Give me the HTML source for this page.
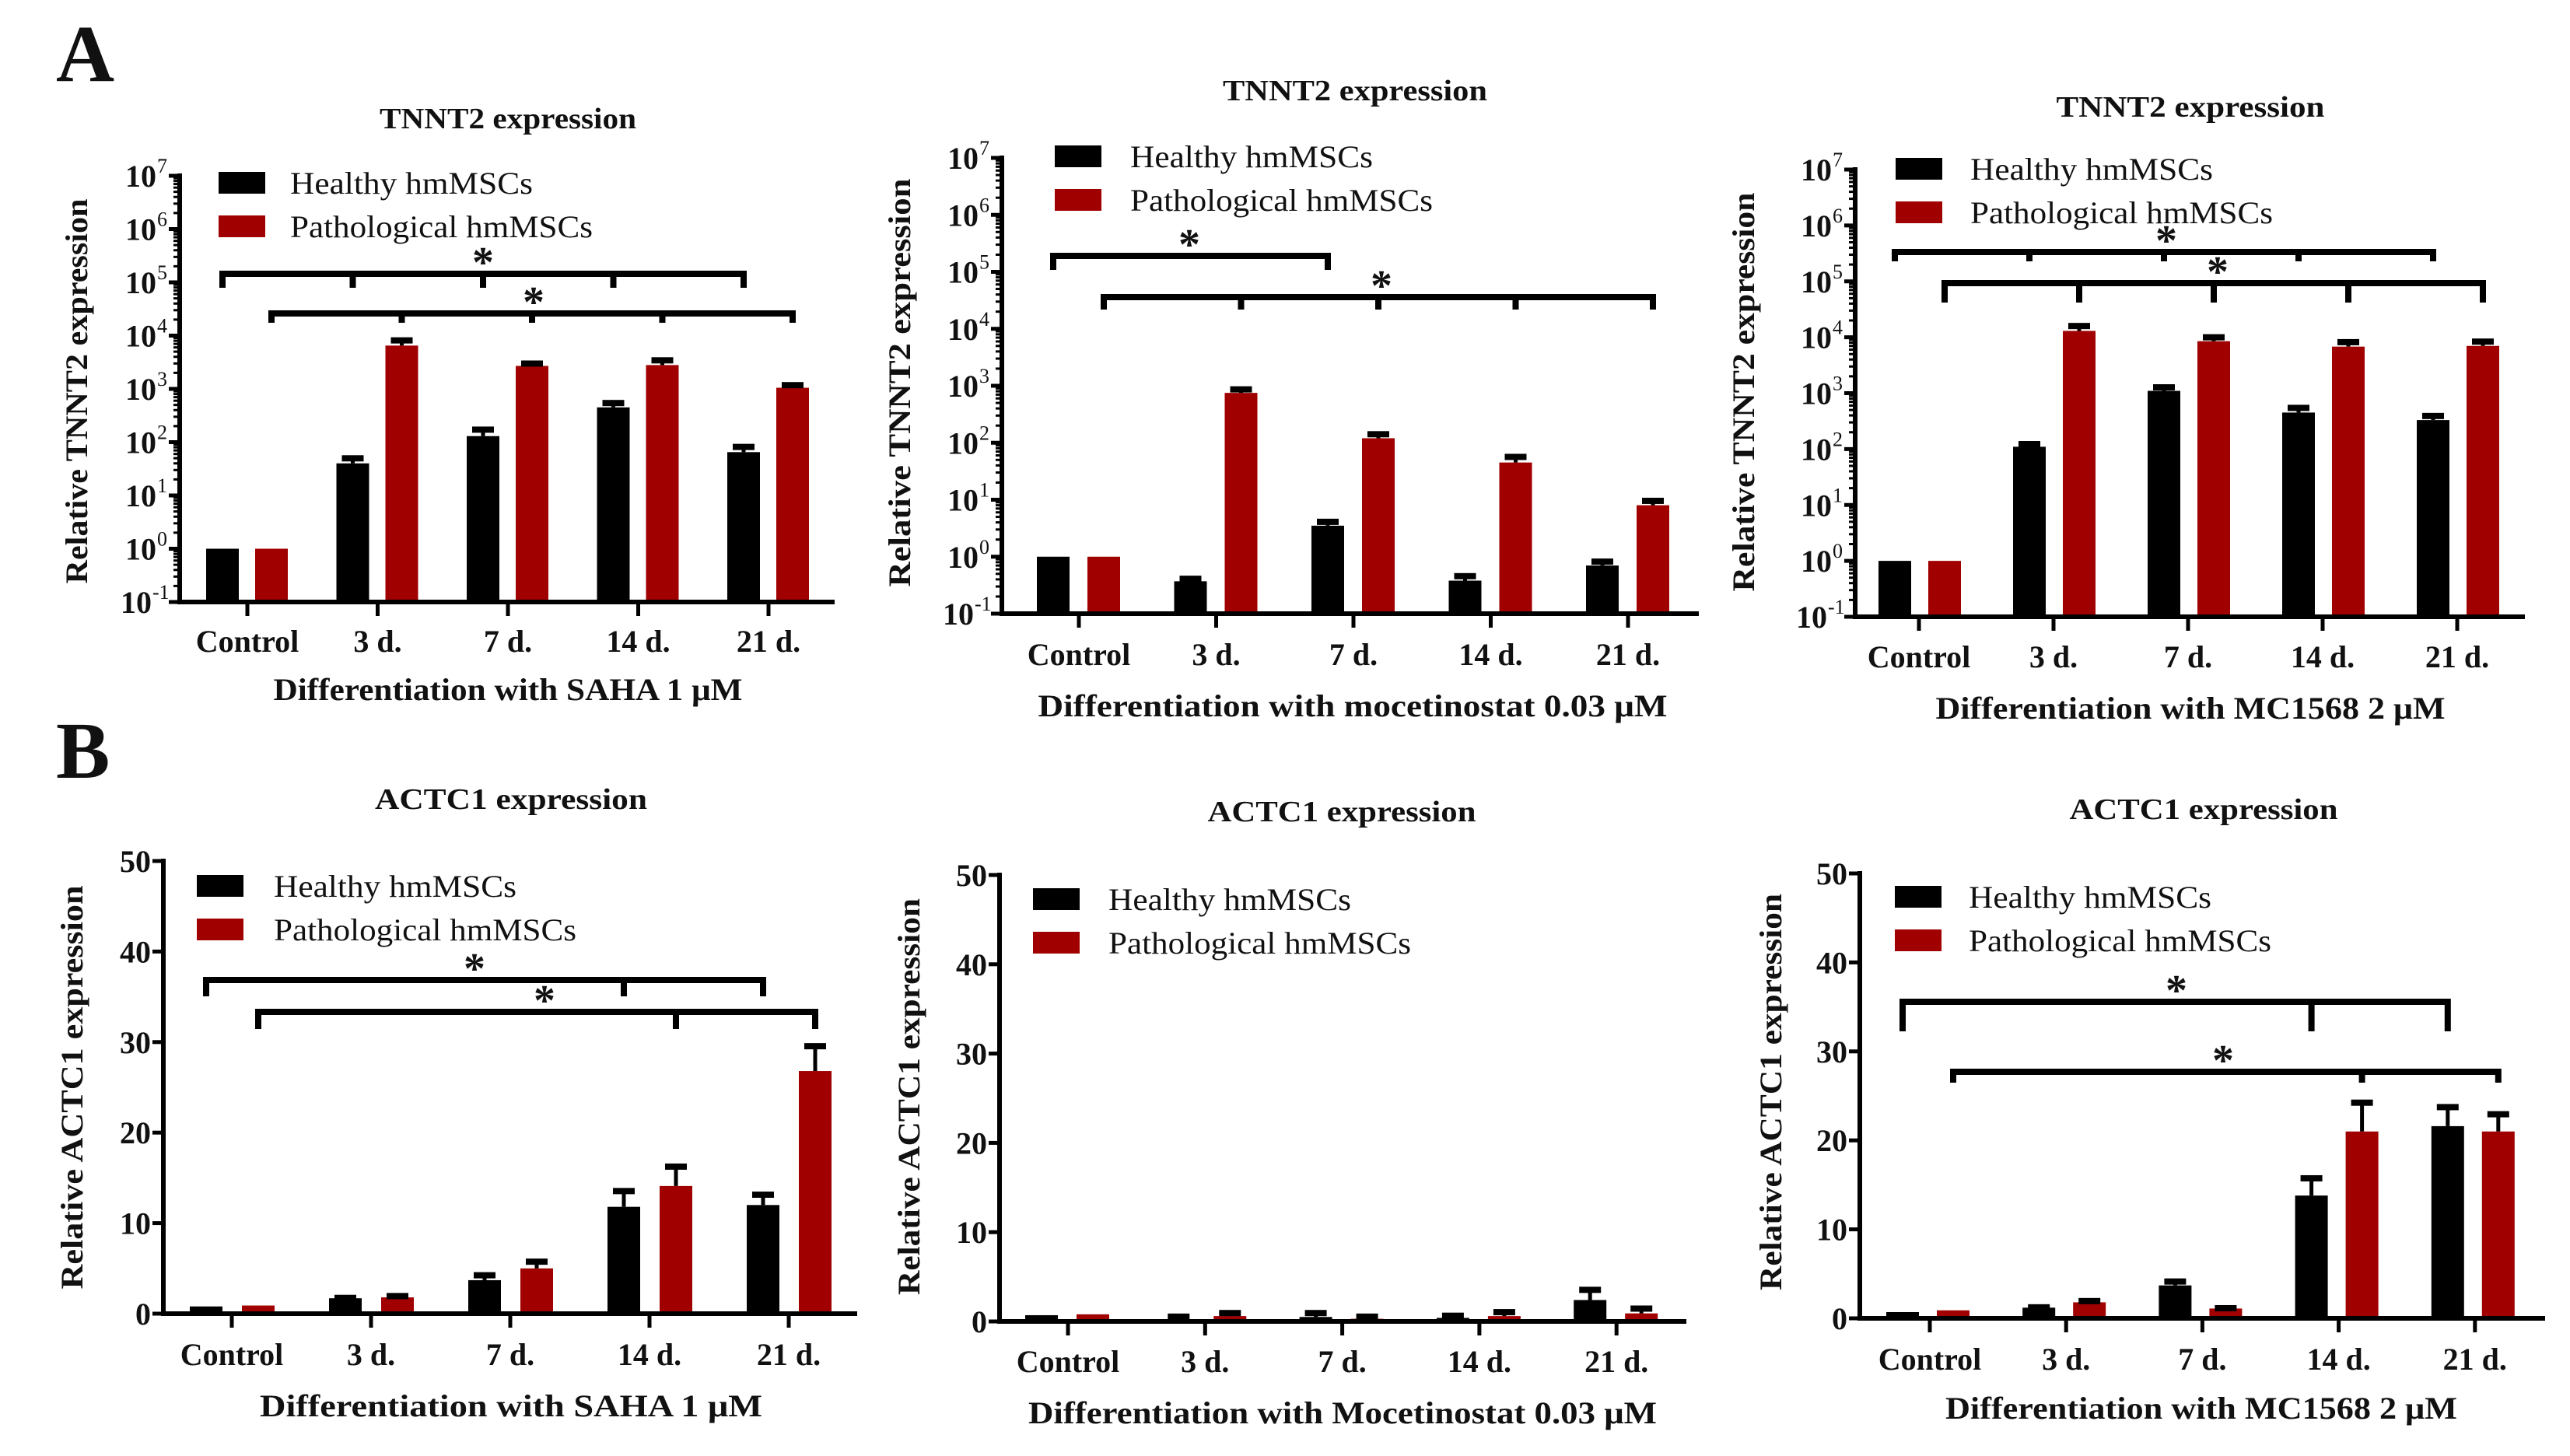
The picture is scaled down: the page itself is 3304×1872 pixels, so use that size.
<!DOCTYPE html>
<html><head><meta charset="utf-8"><style>
html,body{margin:0;padding:0;background:#fff;}
svg{display:block;}
text{font-family:"Liberation Serif",serif;fill:#111;}
</style></head><body>
<svg id="fig" width="3304" height="1872" viewBox="0 0 3304 1872" xmlns="http://www.w3.org/2000/svg">
<rect x="0" y="0" width="3304" height="1872" fill="#ffffff"/>
<text x="72" y="104" font-size="104" font-weight="bold">A</text>
<text x="72" y="1000" font-size="104" font-weight="bold">B</text>
</svg>
<script>
const categories = ['Control','3 d.','7 d.','14 d.','21 d.'];
// A1 TNNT2 SAHA
const a1Healthy = [1, 40, 130, 450, 65];
const a1HealthyErr = [1, 55, 190, 600, 90];
const a1Path = [1, 6500, 2700, 2800, 1050];
const a1PathErr = [1, 9000, 3300, 3800, 1300];
// A2 TNNT2 mocetinostat
const a2Healthy = [1, 0.37, 3.5, 0.38, 0.7];
const a2HealthyErr = [1, 0.45, 4.5, 0.5, 0.9];
const a2Path = [1, 750, 120, 45, 8];
const a2PathErr = [1, 950, 155, 62, 10.5];
// A3 TNNT2 MC1568
const a3Healthy = [1, 110, 1100, 450, 330];
const a3HealthyErr = [1, 135, 1400, 600, 430];
const a3Path = [1, 13000, 8500, 6800, 7000];
const a3PathErr = [1, 17500, 11000, 9000, 9200];
// B1 ACTC1 SAHA
const b1Healthy = [0.8, 1.7, 3.7, 11.8, 12];
const b1HealthyErr = [0.8, 2.0, 4.5, 13.8, 13.4];
const b1Path = [0.9, 1.8, 5, 14.1, 26.8];
const b1PathErr = [0.9, 2.2, 6, 16.5, 29.8];
// B2 ACTC1 mocetinostat
const b2Healthy = [0.7, 0.2, 0.5, 0.4, 2.4];
const b2HealthyErr = [0.7, 0.8, 1.2, 0.9, 3.8];
const b2Path = [0.8, 0.6, 0.3, 0.6, 0.9];
const b2PathErr = [0.8, 1.2, 0.8, 1.3, 1.7];
// B3 ACTC1 MC1568
const b3Healthy = [0.7, 1.2, 3.7, 13.8, 21.6];
const b3HealthyErr = [0.7, 1.5, 4.4, 16, 24];
const b3Path = [0.9, 1.8, 1.1, 21, 21];
const b3PathErr = [0.9, 2.2, 1.4, 24.5, 23.2];
const logTickExps = [-1,0,1,2,3,4,5,6,7];
const linTicks = [0,10,20,30,40,50];

const NS='http://www.w3.org/2000/svg';
const svg=document.getElementById('fig');
function mk(tag,attrs,parent){const e=document.createElementNS(NS,tag);for(const k in attrs)e.setAttribute(k,attrs[k]);(parent||svg).appendChild(e);return e;}

const panels=[
 {id:'a1',log:true,ax:231,top:226,bot:774,right:1073,t0:318,dt:167.5,bo:-32,ro:31,h:a1Healthy,he:a1HealthyErr,p:a1Path,pe:a1PathErr,
  title:'TNNT2 expression',tx:653,ty:165,tw:330,lx:281,ly:221,ltx:373,ylab:'Relative TNNT2 expression',yx:112,yy:503,yl:495,
  xt:'Differentiation with SAHA 1 \u03bcM',xtx:653,xty:900,xtw:603,cly:838,
  br:[{g:'h',idx:[0,1,2,3,4],y:352,d:18,sx:621},{g:'p',idx:[0,1,2,3,4],y:403,d:12,sx:686}]},
 {id:'a2',log:true,ax:1288,top:203,bot:789,right:2184,t0:1387,dt:176.5,bo:-33,ro:32,h:a2Healthy,he:a2HealthyErr,p:a2Path,pe:a2PathErr,
  title:'TNNT2 expression',tx:1742,ty:129,tw:340,lx:1356,ly:187,ltx:1453,ylab:'Relative TNNT2 expression',yx:1170,yy:492,yl:525,
  xt:'Differentiation with mocetinostat 0.03 \u03bcM',xtx:1739,xty:921,xtw:809,cly:855,
  br:[{g:'h',idx:[0,2],y:329,d:18,sx:1529},{g:'p',idx:[0,1,2,3,4],y:382,d:16,sx:1776}]},
 {id:'a3',log:true,ax:2385,top:218,bot:793,right:3246,t0:2467,dt:173,bo:-31,ro:33,h:a3Healthy,he:a3HealthyErr,p:a3Path,pe:a3PathErr,
  title:'TNNT2 expression',tx:2816,ty:150,tw:345,lx:2437,ly:203,ltx:2533,ylab:'Relative TNNT2 expression',yx:2255,yy:504,yl:513,
  xt:'Differentiation with MC1568 2 \u03bcM',xtx:2816,xty:924,xtw:655,cly:858,
  br:[{g:'h',idx:[0,1,2,3,4],y:324,d:12,sx:2785},{g:'p',idx:[0,1,2,3,4],y:364,d:25,sx:2851}]},
 {id:'b1',log:false,ax:210,top:1107,bot:1689,right:1102,t0:298,dt:179,bo:-33,ro:34,h:b1Healthy,he:b1HealthyErr,p:b1Path,pe:b1PathErr,
  title:'ACTC1 expression',tx:657,ty:1040,tw:350,lx:253,ly:1125,ltx:352,ylab:'Relative ACTC1 expression',yx:106,yy:1398,yl:519,
  xt:'Differentiation with SAHA 1 \u03bcM',xtx:657,xty:1821,xtw:646,cly:1755,
  br:[{g:'h',idx:[0,3,4],y:1260,d:21,sx:610},{g:'p',idx:[0,3,4],y:1301,d:22,sx:700}]},
 {id:'b2',log:false,ax:1285,top:1125,bot:1699,right:2168,t0:1373,dt:176.3,bo:-34,ro:32,h:b2Healthy,he:b2HealthyErr,p:b2Path,pe:b2PathErr,
  title:'ACTC1 expression',tx:1725,ty:1056,tw:345,lx:1328,ly:1142,ltx:1425,ylab:'Relative ACTC1 expression',yx:1182,yy:1410,yl:510,
  xt:'Differentiation with Mocetinostat 0.03 \u03bcM',xtx:1726,xty:1830,xtw:808,cly:1764,
  br:[]},
 {id:'b3',log:false,ax:2391,top:1123,bot:1695,right:3272,t0:2481,dt:175.2,bo:-35,ro:30,h:b3Healthy,he:b3HealthyErr,p:b3Path,pe:b3PathErr,
  title:'ACTC1 expression',tx:2833,ty:1053,tw:345,lx:2436,ly:1139,ltx:2531,ylab:'Relative ACTC1 expression',yx:2290,yy:1404,yl:510,
  xt:'Differentiation with MC1568 2 \u03bcM',xtx:2830,xty:1824,xtw:658,cly:1761,
  br:[{g:'h',idx:[0,3,4],y:1288,d:38,sx:2798},{g:'p',idx:[0,3,4],y:1378,d:14,sx:2858}]}
];

function drawPanel(c){
  const g=mk('g',{});
  
  
  let yScale;
  if(c.log){const per=(c.bot-c.top)/8;yScale=v=>c.bot-(Math.log10(v)+1)*per;}
  else{yScale=v=>c.bot-v/50*(c.bot-c.top);}
  const xCat=i=>c.t0+i*c.dt;
  [['h',c.h,c.he,'#000000',c.bo],['p',c.p,c.pe,'#a00000',c.ro]].forEach(([key,vals,errs,col,off])=>{
    vals.forEach((v,i)=>{
      const cx=xCat(i)+off, y=yScale(v);
      const r=mk('rect',{x:cx-21,y:y,width:42,height:c.bot-y,fill:col},g);
      
      
      const ev=errs[i];
      if(ev>v*1.01){
        const ye=yScale(ev);
        const st=mk('line',{x1:cx,x2:cx,y1:y,y2:ye,stroke:'#000','stroke-width':5},g);
        
        
        const cp=mk('rect',{x:cx-14,y:ye-1,width:28,height:8,fill:'#000'},g);
        
        
      }
    });
  });
  const ya=mk('line',{x1:c.ax,x2:c.ax,y1:c.top-3,y2:c.bot+3,stroke:'#000','stroke-width':6},g);
  
  
  const xa=mk('line',{x1:c.ax-3,x2:c.right,y1:c.bot,y2:c.bot,stroke:'#000','stroke-width':6},g);
  
  
  if(c.log){
    logTickExps.forEach(e=>{
      const y=yScale(Math.pow(10,e));
      mk('line',{x1:c.ax-14,x2:c.ax,y1:y,y2:y,stroke:'#000','stroke-width':5},g);
      const supX = e<0 ? c.ax-36 : c.ax-30;
      const t=mk('text',{x:supX,y:y+14,'font-size':40,'font-weight':'bold','text-anchor':'end'},g);
      
      
      t.textContent='10';
      const s=mk('text',{x:supX+1,y:y-4,'font-size':26,'text-anchor':'start'},g);
      
      
      s.textContent=e<0?'-1':String(e);
      if(e<7){for(let m=2;m<10;m++){const ym=yScale(m*Math.pow(10,e));mk('line',{x1:c.ax-8,x2:c.ax,y1:ym,y2:ym,stroke:'#000','stroke-width':3},g);}}
    });
  } else {
    linTicks.forEach(v=>{
      const y=yScale(v);
      mk('line',{x1:c.ax-14,x2:c.ax,y1:y,y2:y,stroke:'#000','stroke-width':5},g);
      const t=mk('text',{x:c.ax-16,y:y+14,'font-size':40,'font-weight':'bold','text-anchor':'end'},g);
      
      
      t.textContent=String(v);
    });
  }
  categories.forEach((cat,i)=>{
    const x=xCat(i);
    mk('line',{x1:x,x2:x,y1:c.bot,y2:c.bot+18,stroke:'#000','stroke-width':5},g);
    const t=mk('text',{x:x,y:c.cly,'font-size':40,'font-weight':'bold','text-anchor':'middle'},g);
    
    
    t.textContent=cat;
  });
  const tt=mk('text',{x:c.tx,y:c.ty,'font-size':38,'font-weight':'bold','text-anchor':'middle',textLength:c.tw,lengthAdjust:'spacingAndGlyphs'},g);
  
  
  tt.textContent=c.title;
  [['Healthy hmMSCs','#000',0,312],['Pathological hmMSCs','#a00000',1,389]].forEach(([lab,col,k,w])=>{
    const y0=c.ly+k*56;
    const sw=mk('rect',{x:c.lx,y:y0,width:60,height:28,fill:col},g);
    
    
    const lt=mk('text',{x:c.ltx,y:y0+28,'font-size':40,textLength:w,lengthAdjust:'spacingAndGlyphs'},g);
    
    
    lt.textContent=lab;
  });
  const yt=mk('text',{x:0,y:0,'font-size':40,'font-weight':'bold','text-anchor':'middle',textLength:c.yl,lengthAdjust:'spacingAndGlyphs',transform:'translate('+c.yx+','+c.yy+') rotate(-90)'},g);
  
  
  yt.textContent=c.ylab;
  const xt=mk('text',{x:c.xtx,y:c.xty,'font-size':40,'font-weight':'bold','text-anchor':'middle',textLength:c.xtw,lengthAdjust:'spacingAndGlyphs'},g);
  
  
  xt.textContent=c.xt;
  c.br.forEach(b=>{
    const off=b.g==='h'?c.bo:c.ro;
    const xs=b.idx.map(i=>xCat(i)+off);
    let d='M'+xs[0]+' '+(b.y+b.d)+' L'+xs[0]+' '+b.y+' L'+xs[xs.length-1]+' '+b.y+' L'+xs[xs.length-1]+' '+(b.y+b.d);
    for(let k=1;k<xs.length-1;k++)d+=' M'+xs[k]+' '+b.y+' L'+xs[k]+' '+(b.y+b.d);
    const p=mk('path',{d:d,fill:'none',stroke:'#000','stroke-width':8},g);
    
    
    const s=mk('text',{x:b.sx,y:b.y+4,'font-size':56,'font-weight':'bold','text-anchor':'middle'},g);
    
    
    s.textContent='*';
  });
}
panels.forEach(drawPanel);
</script>
</body></html>
